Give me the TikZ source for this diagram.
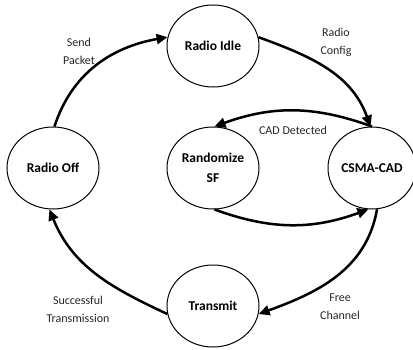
\documentclass[tikz,border=0pt]{standalone}
\usepackage{fontspec}
\setmainfont{Carlito}
\usetikzlibrary{shapes.geometric,arrows.meta}
\begin{document}
\begin{tikzpicture}[x=1pt,y=1pt,
  state/.style={ellipse,draw,line width=1pt,minimum width=92pt,minimum height=82pt,inner sep=0pt,
    font=\fontsize{13.5}{20}\selectfont\bfseries,align=center},
  trans/.style={line width=2.5pt,-{Triangle[length=11pt,width=10pt]}},
  lbl/.style={font=\fontsize{12}{18}\selectfont,align=center,text=black!85}]
\useasboundingbox (0,0) rectangle (413,349);
\node[state] (idle) at (213,303) {Radio Idle};
\node[state] (off) at (53,181) {Radio Off};
\node[state] (rand) at (213,181) {Randomize\\SF};
\node[state,minimum width=88pt] (csma) at (372,181) {CSMA-CAD};
\node[state] (tx) at (213,43) {Transmit};

\draw[trans] (off.88) to[out=72,in=190] (idle.169);
\draw[trans] (idle.11) to[out=-20,in=110] (csma.92);
\draw[trans] (csma.90) to[out=160,in=20] (rand.88);
\draw[trans] (rand.-88) to[out=-20,in=200] (csma.-95);
\draw[trans] (csma.-83) to[out=-100,in=20] (tx.-10);
\draw[trans] (tx.190) to[out=155,in=-68] (off.-95);

\node[lbl] (l1) at (79,298) {Send\\Packet};
\node[lbl] (l2) at (336,307) {Radio\\Config};
\node[lbl] (l3) at (293,219) {CAD Detected};
\node[lbl] (l4) at (78,40) {Successful\\Transmission};
\node[lbl] (l5) at (340,42) {Free\\Channel};
\end{tikzpicture}
\end{document}
